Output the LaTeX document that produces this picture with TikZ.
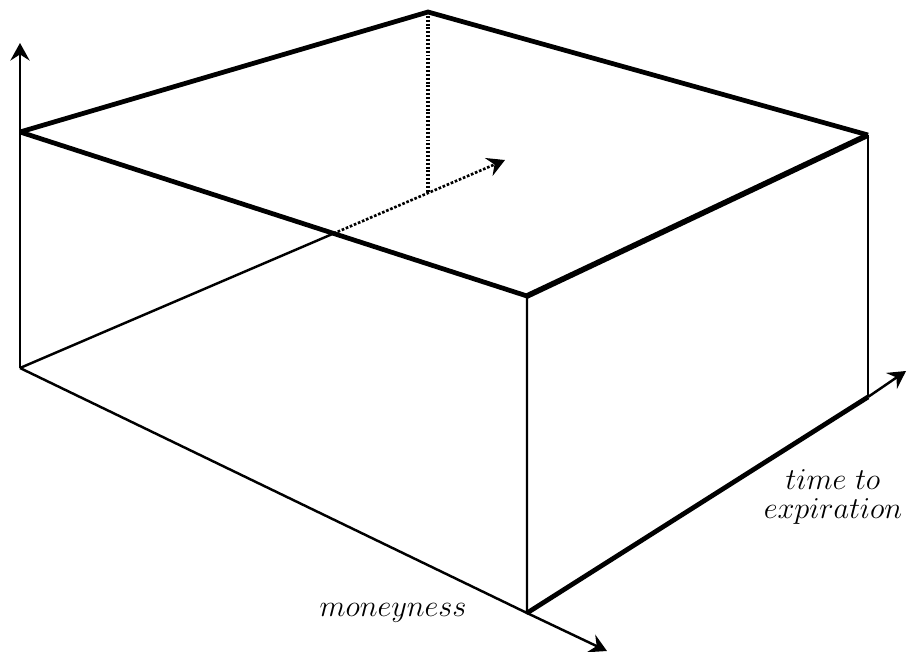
\documentclass[tikz,border=0pt]{standalone}
\usepackage{amsmath}
\usepackage{tikz}
\usetikzlibrary{arrows.meta}

\begin{document}
\begin{tikzpicture}[x=0.02cm,y=-0.02cm,>={Stealth[length=10pt,width=11pt,inset=3.5pt]}, every node/.style={font=\fontsize{17}{16}\selectfont}]
\tikzstyle{edge}=[line width=2.7pt, line join=round]
\tikzstyle{rim}=[line width=1.4pt]
\tikzstyle{hidden}=[line width=1.5pt, dash pattern=on 1.5pt off 1pt]
\useasboundingbox (0,0) rectangle (909,652);
% corners of the box
\coordinate (tl) at (20,132);
\coordinate (tb) at (428,12);
\coordinate (tr) at (868,135);
\coordinate (tf) at (527,296);
\coordinate (bl) at (20,368);
\coordinate (bf) at (527,613);
\coordinate (br) at (868,397);
\coordinate (c) at (428,193);
% axis tips
\coordinate (ztip) at (20,43);
\coordinate (xtip) at (607,651);
\coordinate (ytip) at (906,371);
\coordinate (dtip) at (505,160);
\coordinate (hx) at (intersection of bl--c and tl--tf);
% top face
\draw[edge] (tl) -- (tb) -- (tr);
\draw[edge] (tl) -- (tf);
\draw[edge, line width=3.2pt] (tf) -- (tr);
\draw[edge] (bf) -- (br);
% sides and axes
\draw[rim] (bl) -- (bf) -- (tf);
\draw[rim] (tr) -- (br);
\draw[rim,->] (bl) -- (ztip);
\draw[rim,->] (bf) -- (xtip);
\draw[rim,->] (br) -- (ytip);
\draw[rim] (bl) -- (hx);
\draw[hidden,->] (hx) -- (dtip);
\draw[line width=2.6pt, dash pattern=on 1.1pt off 1.1pt] (tb) -- (c);
% labels
\node (money) at (393,613) {$moneyness$};
\node[align=center] (expiry) at (833,497) {$time\ to$\\$expiration$};
\end{tikzpicture}
\end{document}
